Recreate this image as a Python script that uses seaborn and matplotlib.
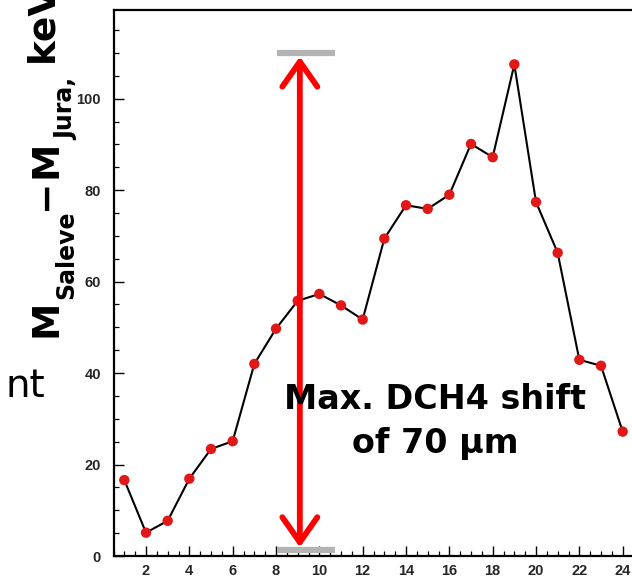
import matplotlib
matplotlib.use("Agg")
import matplotlib.pyplot as plt
from matplotlib.ticker import MultipleLocator
import numpy as np
import pandas as pd
import seaborn as sns

# ---- data ----
stations = list(range(1, 25))
mass_diff = [16.6, 5.1, 7.7, 16.9, 23.4, 25.1, 42.0, 49.7, 55.8, 57.3, 54.8, 51.7,
             69.4, 76.7, 75.9, 79.0, 90.1, 87.2, 107.5, 77.4, 66.3, 42.9, 41.6, 27.2]
x_ticks = [2, 4, 6, 8, 10, 12, 14, 16, 18, 20, 22, 24]
y_ticks = [0, 20, 40, 60, 80, 100]
shift_bar_x = [8.05, 10.7]
shift_levels = [1.3, 110.0]
arrow_x = 9.1
annotation = "Max. DCH4 shift\nof 70 \u03bcm"
# y-label pieces: (text, is_subscript)
ylabel_parts = [("M", False), ("Saleve", True), ("\u2212", False), ("M", False),
                ("Jura,", True), (" keV", False)]

sns.set_style("white")
plt.rcParams["font.family"] = ["DejaVu Sans"]

fig = plt.figure(figsize=(6.32, 5.79), dpi=100)
W, H = 632, 579
ax = fig.add_axes([113.5 / W, 23 / H, (633.5 - 113.5) / W, 546.5 / H])

df = pd.DataFrame({"station": stations, "diff": mass_diff})
sns.lineplot(data=df, x="station", y="diff", color="black", lw=1.5, ax=ax, zorder=2)
sns.scatterplot(data=df, x="station", y="diff", color="#e01818", s=56,
                edgecolor="none", ax=ax, zorder=3)

ax.set_xlim(0.5, 24.5)
ax.set_ylim(0, 119.5)
ax.set_xticks(x_ticks)
ax.set_yticks(y_ticks)
ax.xaxis.set_minor_locator(MultipleLocator(0.5))
ax.yaxis.set_minor_locator(MultipleLocator(5))
ax.tick_params(which="both", direction="in", top=False, right=False,
               bottom=True, left=True, color="black")
ax.tick_params(which="major", length=7, width=1.0)
ax.tick_params(which="minor", length=3.6, width=0.9)
ax.tick_params(axis="x", which="major", pad=6)
ax.tick_params(axis="y", which="major", pad=9)
for lab in ax.get_xticklabels() + ax.get_yticklabels():
    lab.set_fontfamily("Liberation Sans")
    lab.set_fontweight("bold")
    lab.set_fontsize(10.5)
for sp in ax.spines.values():
    sp.set_linewidth(1.6)
    sp.set_color("black")
ax.set_xlabel("")
ax.set_ylabel("")

# gray limit bars
for lvl in shift_levels:
    ax.plot(shift_bar_x, [lvl, lvl], color="#b3b3b3", lw=4.5, solid_capstyle="butt",
            zorder=2)

# red double arrow
ax.annotate("", xy=(arrow_x, shift_levels[1] - 0.8), xytext=(arrow_x, shift_levels[0] + 0.6),
            arrowprops=dict(arrowstyle="<->,head_length=0.6,head_width=0.42",
                            color="#ff0000", lw=4.2, mutation_scale=30,
                            shrinkA=0, shrinkB=0),
            zorder=4)

ax.text(15.35, 29.4, annotation, ha="center", va="center", multialignment="center",
        fontsize=24, fontweight="bold", color="black", linespacing=1.45, zorder=5)

# rotated y-label built from pieces (main letters + subscripts)
renderer = fig.canvas.get_renderer()
y_pos = 579 - 337          # start (bottom) of the label, pixels from figure bottom
main_base_x, sub_base_x = 56, 73
for txt, is_sub in ylabel_parts:
    t = fig.text((sub_base_x if is_sub else main_base_x) / W, y_pos / H, txt,
                 rotation=90, rotation_mode="anchor", ha="left", va="baseline",
                 fontsize=17 if is_sub else 27, fontweight="bold", color="black")
    ext = t.get_window_extent(renderer)
    y_pos += ext.height + 0.5

fig.text(45 / W, (579 - 397) / H, "nt", ha="right", va="baseline",
         fontsize=28, color="black")

fig.savefig("out.png", dpi=100)
